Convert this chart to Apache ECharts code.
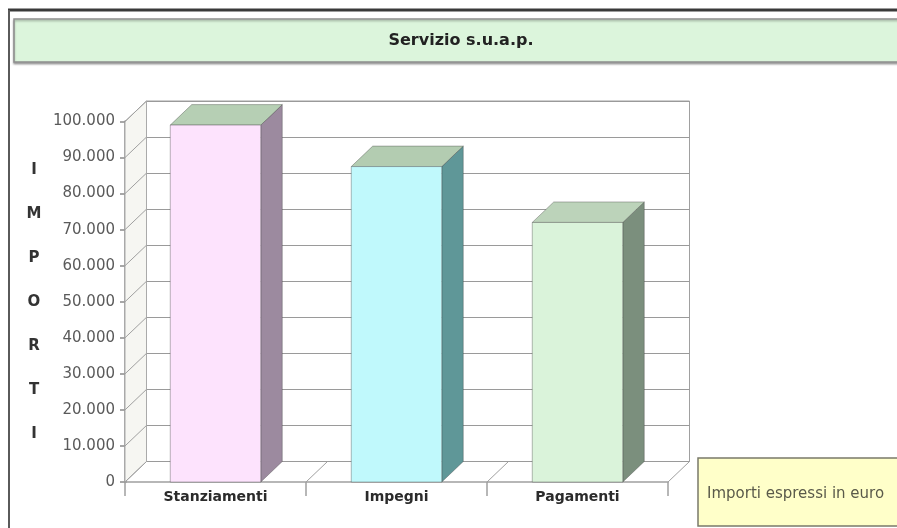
<!DOCTYPE html>
<html>
<head>
<meta charset="utf-8">
<title>Servizio s.u.a.p.</title>
<script src="https://cdn.jsdelivr.net/npm/echarts@6/dist/echarts.min.js"></script>
<style>
  html, body { margin: 0; padding: 0; background: #fff; }
  #main { width: 897px; height: 528px; }
</style>
</head>
<body>
<div id="main"></div>
<script>
// dati del grafico
var categories = ['Stanziamenti', 'Impegni', 'Pagamenti'];
var values = [99000, 87500, 72000];
var yTicks = [0, 10000, 20000, 30000, 40000, 50000, 60000, 70000, 80000, 90000, 100000];

// colori delle facce delle colonne
var frontColors = ['#fde3fd', '#c0f9fc', '#daf3da'];
var sideColors = ['#9c8a9f', '#5f9798', '#7b8f7d'];
var topColors = ['#b6cfb4', '#b3ccb1', '#bcd3ba'];

// profondita' della vista 3d
var DX = 21.5, DY = 20.5;
var FRONT = { left: 125, top: 121.5, width: 543, height: 360.5 };

function fmt(v) {
    return String(v).replace(/\B(?=(\d{3})+(?!\d))/g, '.');
}

var myChart = echarts.init(document.getElementById('main'));

function renderBar(params, api) {
    var i = params.dataIndex;
    var base = api.coord([api.value(0), 0]);
    var top = api.coord([api.value(0), api.value(1)]);
    var band = api.size([1, 0])[0];
    var w = band * 0.5;
    var xl = base[0] - w / 2, xr = base[0] + w / 2;
    var yb = base[1], yt = top[1];
    var edge = 'rgba(60,60,60,0.45)';
    return {
        type: 'group',
        children: [
            { type: 'polygon', shape: { points: [[xr, yt], [xr + DX, yt - DY], [xr + DX, yb - DY], [xr, yb]] },
              style: { fill: sideColors[i], stroke: edge, lineWidth: 0.8 } },
            { type: 'polygon', shape: { points: [[xl, yt], [xl + DX, yt - DY], [xr + DX, yt - DY], [xr, yt]] },
              style: { fill: topColors[i], stroke: edge, lineWidth: 0.8 } },
            { type: 'rect', shape: { x: xl, y: yt, width: w, height: yb - yt },
              style: { fill: frontColors[i], stroke: edge, lineWidth: 0.8 } }
        ]
    };
}

// parete laterale sinistra
function renderSideWall(params, api) {
    var band = api.size([1, 0])[0];
    var b = api.coord([0, 0]);
    var t = api.coord([0, yTicks[yTicks.length - 1]]);
    var x0 = b[0] - band / 2;
    return {
        type: 'polygon',
        shape: { points: [[x0, t[1]], [x0 + DX, t[1] - DY], [x0 + DX, b[1] - DY], [x0, b[1]]] },
        style: { fill: '#f6f6f2', stroke: '#aaa', lineWidth: 1 }
    };
}

function renderWallLine(params, api) {
    var band = api.size([1, 0])[0];
    var p = api.coord([0, api.value(1)]);
    var x0 = p[0] - band / 2;
    return {
        type: 'line',
        shape: { x1: x0, y1: p[1], x2: x0 + DX, y2: p[1] - DY },
        style: { stroke: '#a0a0a0', lineWidth: 1 }
    };
}

function renderFloorLine(params, api) {
    var band = api.size([1, 0])[0];
    var p = api.coord([api.value(0), 0]);
    var x0 = p[0] + band / 2;
    return {
        type: 'line',
        shape: { x1: x0, y1: p[1], x2: x0 + DX, y2: p[1] - DY },
        style: { stroke: '#a0a0a0', lineWidth: 1 }
    };
}

var option = {
    backgroundColor: '#fff',
    animation: false,
    textStyle: { fontFamily: 'DejaVu Sans' },
    grid: [
        { left: FRONT.left, top: FRONT.top, width: FRONT.width, height: FRONT.height, show: false },
        { left: FRONT.left + DX, top: FRONT.top - DY, width: FRONT.width, height: FRONT.height,
          show: true, backgroundColor: '#fff', borderColor: '#a0a0a0', borderWidth: 1 }
    ],
    xAxis: [
        {
            type: 'category', gridIndex: 0, data: categories, boundaryGap: true,
            axisLine: { show: true, lineStyle: { color: '#a0a0a0', width: 1.5 } },
            axisTick: { show: true, length: 14, lineStyle: { color: '#a0a0a0', width: 1.5 } },
            axisLabel: { margin: 8, fontSize: 14, fontWeight: 'bold', color: '#2b2b2b', fontFamily: 'DejaVu Sans' }
        },
        {
            type: 'category', gridIndex: 1, data: categories, boundaryGap: true,
            axisLine: { show: false }, axisTick: { show: false }, axisLabel: { show: false }
        }
    ],
    yAxis: [
        {
            type: 'value', gridIndex: 0, min: 0, max: 100000, interval: 10000,
            name: 'IMPORTI'.split('').join('\n'),
            nameLocation: 'middle', nameRotate: 0, nameGap: 91,
            nameTextStyle: { fontSize: 15, fontWeight: 'bold', color: '#333', lineHeight: 44, align: 'center',
                             padding: [8, 0, 0, 0], fontFamily: 'DejaVu Sans' },
            axisLine: { show: true, lineStyle: { color: '#8a8a8a', width: 2.5 } },
            axisTick: { show: true, length: 5, lineStyle: { color: '#8a8a8a', width: 1.5 } },
            axisLabel: { margin: 10, fontSize: 15, color: '#5a5a5a', formatter: fmt, fontFamily: 'DejaVu Sans' },
            splitLine: { show: false }
        },
        {
            type: 'value', gridIndex: 1, min: 0, max: 100000, interval: 10000,
            axisLine: { show: false }, axisTick: { show: false }, axisLabel: { show: false },
            splitLine: { show: true, lineStyle: { color: '#9a9a9a', width: 1.2 } }
        }
    ],
    series: [
        { type: 'custom', name: 'parete', xAxisIndex: 0, yAxisIndex: 0, z: 1, silent: true,
          renderItem: renderSideWall, data: [[0, 0]] },
        { type: 'custom', name: 'linee parete', xAxisIndex: 0, yAxisIndex: 0, z: 2, silent: true,
          renderItem: renderWallLine, data: yTicks.map(function (v) { return [0, v]; }) },
        { type: 'custom', name: 'pavimento', xAxisIndex: 0, yAxisIndex: 0, z: 2, silent: true,
          renderItem: renderFloorLine, data: categories.map(function (c, i) { return [i, 0]; }) },
        { type: 'custom', name: 'Importi', xAxisIndex: 0, yAxisIndex: 0, z: 3,
          renderItem: renderBar, encode: { x: 0, y: 1 },
          data: values.map(function (v, i) { return [i, v]; }) }
    ],
    graphic: [
        // cornice esterna
        { type: 'line', z: 10, shape: { x1: 8, y1: 10, x2: 897, y2: 10 }, style: { stroke: '#3a3a3a', lineWidth: 3 } },
        { type: 'line', z: 10, shape: { x1: 9, y1: 10, x2: 9, y2: 528 }, style: { stroke: '#5a5a5a', lineWidth: 2 } },
        // riquadro del titolo
        { type: 'rect', z: 10, shape: { x: 14, y: 19, width: 900, height: 43 },
          style: { fill: '#dcf5dc', stroke: '#8f8f8f', lineWidth: 1.5,
                   shadowColor: 'rgba(0,0,0,0.3)', shadowBlur: 2, shadowOffsetY: 1.5 } },
        { type: 'text', z: 11, x: 461, y: 41,
          style: { text: 'Servizio s.u.a.p.', fill: '#222', font: 'bold 16px "DejaVu Sans"',
                   textAlign: 'center', textVerticalAlign: 'middle' } },
        // nota importi
        { type: 'rect', z: 10, shape: { x: 698, y: 458, width: 220, height: 68 },
          style: { fill: '#ffffc9', stroke: '#7a7a6a', lineWidth: 1.5 } },
        { type: 'text', z: 11, x: 707, y: 494,
          style: { text: 'Importi espressi in euro', fill: '#5a5a4a', font: '15px "DejaVu Sans"',
                   textAlign: 'left', textVerticalAlign: 'middle' } }
    ]
};
myChart.setOption(option);
</script>
</body>
</html>
